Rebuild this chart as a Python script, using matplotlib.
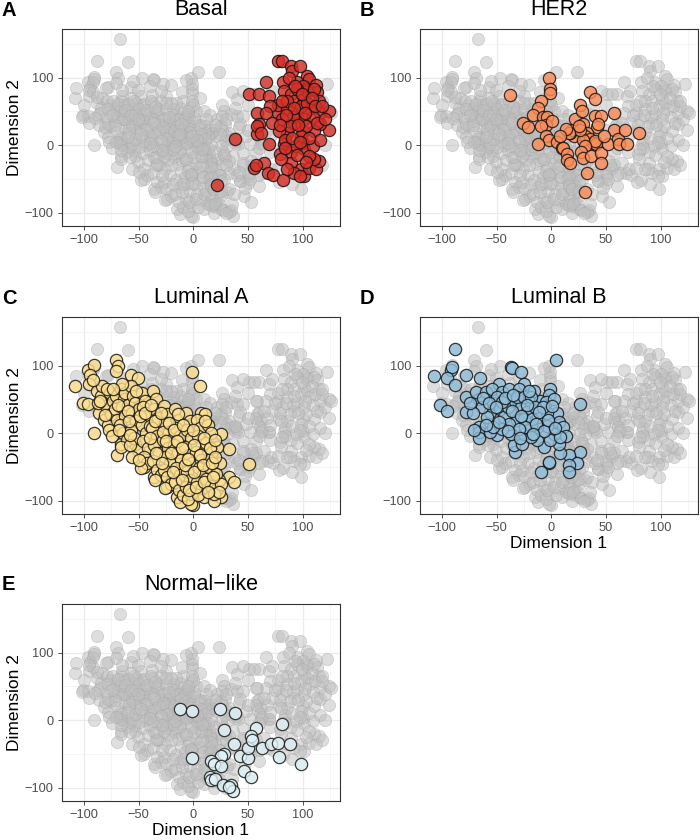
import numpy as np
import matplotlib
matplotlib.use("Agg")
import matplotlib.pyplot as plt

plt.rcParams["font.family"] = ["Liberation Sans", "DejaVu Sans"]

# pontos (Dimension 1, Dimension 2)
basal = [(22, -59), (38, 9), (51, 76), (66, 94), (60, 75), (69, 73), (58, 48), (60, 31),
         (58, 16), (69, 2), (55, -34), (65, -26), (57, -30), (68, -41), (73, -45), (82, -52),
         (77, 125), (81, 125), (89, 117), (90, 110), (104, 102), (106, 98), (82, 93), (83, 80),
         (89, 75), (92, 65), (101, 68), (104, 83), (112, 89), (113, 78), (106, 53), (115, 65),
         (116, 48), (124, 50), (124, 23), (116, 31), (110, 21), (100, 21), (92, 33), (86, 18),
         (78, 21), (77, 48), (77, 60), (86, 53), (95, 46), (101, 38), (98, 58), (91, 41),
         (83, 1), (89, -11), (79, -14), (100, 3), (101, -6), (109, -1), (116, 8), (89, -26),
         (98, -36), (101, -46), (106, -34), (112, -36), (115, -24), (92, -41), (97, -46),
         (110, -20), (80, -21), (109, 41), (104, 80), (95, 93), (100, 88), (95, 83), (86, 65),
         (92, 55), (104, 63), (81, 38), (88, 28), (103, 28), (113, 33), (120, 38), (98, 13),
         (106, 11), (84, 8), (94, -1), (106, -16), (81, 65), (70, 58), (66, 48), (58, 28),
         (62, 18), (72, 33), (97, 117), (110, 83),
         (87, 100), (93, 88), (99, 75), (108, 70), (85, 45), (96, 30), (90, 10), (102, 48),
         (84, -5), (95, -15), (103, -25), (86, -35), (111, 58), (118, 58), (79, 30), (97, 5)]

her2 = [(-38, 74), (-2, 99), (-1, 83), (-1, 77), (-9, 65), (-12, 55), (-17, 44), (-8, 41),
        (-4, 41), (-5, 29), (-9, 28), (1, 36), (-26, 32), (-21, 26), (-5, 13), (-2, 7),
        (-12, 1), (5, 4), (10, -4), (11, -5), (14, -13), (14, -22), (17, -26), (21, 13),
        (17, 18), (19, 22), (22, 39), (26, 59), (35, 78), (40, 68), (40, 43), (45, 43),
        (42, 26), (43, 31), (29, 31), (33, 18), (31, 14), (35, 9), (38, 3), (41, 1), (40, 6),
        (29, 8), (31, -1), (27, -11), (29, -19), (36, -16), (45, -12), (45, -26), (33, -41),
        (31, -70), (52, 1), (57, 48), (57, 23), (61, 9), (62, 2), (69, 1), (67, 22), (80, 18),
        (26, 23), (25, 28), (16, 18), (13, 24), (8, 13), (48, 13), (28, 50)]

luminal_a = [(-108, 69), (-101, 44), (-96, 43), (-91, 0), (-96, 93), (-91, 101), (-94, 86),
             (-95, 73), (-71, 109), (-69, 100), (-71, 92), (-57, 86), (-51, 81), (-1, 90),
             (6, 69), (-70, -32), (-66, -16), (7, 29), (11, 28), (25, -1), (33, -23), (51, -46),
             (33, -65), (37, -73), (25, -95), (0, -107), (-2, -105), (-53, -16), (-45, -50),
             (-36, -65), (-24, -80), (-15, -95), (-12, -102), (10, -95), (19, -100), (21, -85),
             (23, -70),
             (-88, 62), (-84, 55), (-86, 30), (-82, 20), (-80, 40), (-87, 45), (-78, 12), (-83, 70),
             (-76, 60), (-73, 48), (-75, 28), (-72, 35), (-77, 5), (-70, 20), (-74, -5), (-71, 55),
             (-66, 65), (-63, 50), (-65, 38), (-62, 25), (-67, 12), (-64, 0), (-61, -10),
             (-66, -20), (-60, 42), (-62, 60),
             (-57, 70), (-55, 55), (-53, 45), (-56, 30), (-52, 18), (-57, 5), (-54, -8),
             (-51, -25), (-56, -35), (-50, 35), (-58, -18),
             (-47, 60), (-44, 48), (-46, 38), (-42, 25), (-47, 12), (-43, 0), (-46, -12),
             (-41, -22), (-45, -35), (-42, -45), (-48, -52), (-40, 10),
             (-37, 62), (-34, 50), (-36, 35), (-32, 22), (-38, 8), (-33, -5), (-36, -18),
             (-31, -30), (-37, -42), (-33, -55), (-30, -62), (-35, -70),
             (-27, 40), (-24, 28), (-26, 15), (-22, 2), (-28, -10), (-23, -22), (-26, -35),
             (-21, -45), (-27, -55), (-24, -65), (-20, -75), (-26, -82),
             (-17, 35), (-13, 20), (-16, 8), (-12, -5), (-18, -18), (-14, -28), (-11, -40),
             (-16, -52), (-12, -62), (-17, -72), (-13, -85), (-9, -92),
             (-7, 30), (-3, 18), (-6, 5), (-2, -8), (-8, -20), (-4, -32), (-1, -45), (-6, -58),
             (-3, -70), (-7, -80), (-2, -90), (-5, -98),
             (3, 20), (6, 8), (4, -5), (8, -18), (2, -28), (7, -40), (5, -52), (9, -62),
             (3, -72), (8, -82), (4, -92),
             (13, 12), (16, 0), (12, -15), (17, -28), (14, -40), (18, -55), (12, -68), (16, -78),
             (19, -90), (14, -50),
             (22, -20), (24, -45), (21, -60), (25, -75), (23, -88),
             (-92, 78), (-85, 48), (-79, 66), (-81, 27), (-69, 42), (-68, 5), (-60, 33),
             (-59, 18), (-58, -3), (-52, 62), (-49, 25), (-50, -40), (-44, 30), (-40, -8),
             (-39, 42), (-35, 18), (-34, -30), (-30, 30), (-29, -45), (-28, 2), (-25, -12),
             (-22, 15), (-20, -30), (-19, -58), (-18, 5), (-15, -12), (-14, 28), (-10, -22),
             (-10, -70), (-9, 12), (-8, -48), (-5, -38), (-4, -85), (0, 5), (1, -18), (1, -58),
             (2, -80), (6, -32), (9, -48), (10, -8), (10, -72), (11, 18), (13, -88), (15, -22),
             (17, -45), (18, -65), (20, -10), (20, -35), (-65, 72), (-73, 66)]

luminal_b = [(-107, 84), (-88, 125), (-92, 94), (-91, 98), (-95, 81), (-88, 71), (-78, 86),
             (-102, 41), (-95, 33), (-78, 54), (-78, 31), (-66, 51), (-69, 61), (-65, 82),
             (-66, 9), (-66, 2), (-66, -8), (-48, 73), (-37, 98), (-36, 96), (-28, 91), (-25, 73),
             (-1, 66), (-2, 56), (4, 109), (26, 43), (26, -28), (16, -33), (23, -45), (16, -48),
             (16, -58), (-2, -45), (-2, -43), (-9, -58), (8, -30), (7, -16), (-7, -20), (-33, -28),
             (-34, -18), (-27, -16), (-25, -1), (-37, -1), (-50, -3), (-56, 2), (-56, 31),
             (-53, 44), (-47, 36), (-43, 24), (-40, 39), (-33, 48), (-28, 39), (-19, 44),
             (-22, 31), (-16, 63), (-10, 48), (-5, 46), (2, 51), (5, 29), (7, 16), (11, 9),
             (13, -4), (2, -1), (-4, 11), (-13, 9), (-19, 11), (-12, 24), (-4, 29), (-31, 19),
             (-39, 14), (-45, 6), (-59, 24), (-63, 39), (-60, 61), (-54, 66), (-45, 61), (-39, 66),
             (-30, 66), (-31, 53), (-25, 53), (-19, 53), (-15, 39), (-8, 39), (-25, 21), (-18, 21),
             (-24, 9), (-30, 6), (-53, 9), (-72, 29), (-74, 44), (-50, 53), (-45, 46), (-1, -11),
             (-13, -11), (-19, -6), (8, -6), (-71, 4),
             (-62, 52), (-57, 45), (-51, 38), (-48, 17), (-42, 52), (-36, 32), (-35, 57),
             (-28, 26), (-22, 42), (-20, 62), (-14, 14), (-11, 31), (-7, 3), (-3, 20), (1, 40),
             (3, 8), (-17, -2), (-29, -8), (-40, 3), (-60, 12)]

normal_like = [(-12, 16), (-1, 13), (-1, -56), (24, 17), (38, 11), (28, -15), (37, -36),
               (28, -50), (25, -54), (16, -60), (19, -65), (25, -68), (15, -85), (16, -89),
               (20, -87), (27, -97), (34, -96), (36, -105), (33, -99), (43, -54), (46, -76),
               (50, -57), (50, -42), (53, -85), (57, -12), (53, -24), (54, -30), (63, -42),
               (71, -36), (77, -34), (78, -55), (81, -6), (88, -35), (98, -65)]

# amostras sem subtipo (so aparecem em cinza)
other = [(-67, 157), (-60, 123), (-47, 100), (-7, 96), (23, 108), (-20, 89), (122, 90),
         (126, 48), (43, -53), (47, -63), (60, -60), (34, 46), (-10, 78), (-30, 80),
         (-90, 40), (-100, 60), (45, -30), (40, -45), (63, 5), (70, -10), (120, 0),
         (118, -30), (90, -58), (35, -88), (30, -100), (10, 50), (15, 45), (45, 80), (50, 60),
         (-80, 85), (-40, 88), (0, 60), (30, -30), (60, -5), (118, 65),
         (30, 38), (38, 55), (50, 22), (55, 75), (65, 32), (70, 12), (60, -45), (52, -50),
         (42, -40), (20, 30), (12, 38), (-5, 50), (-25, 62), (-55, 95), (75, 45), (72, 80)]

titles = ["Basal", "HER2", "Luminal A", "Luminal B", "Normal\u2212like"]
letters = ["A", "B", "C", "D", "E"]
colors = ["#D73027", "#FC8D59", "#FEE090", "#91BFDB", "#E0F3F8"]
groups = [basal, her2, luminal_a, luminal_b, normal_like]

all_pts = np.array(basal + her2 + luminal_a + luminal_b + normal_like + other)

W, H = 700, 840
fig = plt.figure(figsize=(W / 100, H / 100), dpi=100)

# (left, top) em pixels de cada painel
boxes = [(62, 29), (420, 29), (62, 317), (420, 317), (62, 604)]
aw, ah = 278, 197

for i in range(5):
    left, top = boxes[i]
    ax = fig.add_axes([left / W, 1 - (top + ah) / H, aw / W, ah / H])
    ax.scatter(all_pts[:, 0], all_pts[:, 1], s=78, c="#BEBEBE", alpha=0.5,
               edgecolors="#A6A6A6", linewidths=0.5, zorder=2)
    pts = np.array(groups[i])
    ax.scatter(pts[:, 0], pts[:, 1], s=78, c=colors[i], alpha=0.8,
               edgecolors="#111111", linewidths=0.9, zorder=3)
    ax.set_xlim(-120, 134)
    ax.set_ylim(-120, 172)
    ax.set_xticks([-100, -50, 0, 50, 100])
    ax.set_yticks([-100, 0, 100])
    ax.set_xticks([-75, -25, 25, 75, 125], minor=True)
    ax.set_yticks([-50, 50, 150], minor=True)
    ax.grid(True, which="major", color="#EBEBEB", linewidth=0.9, zorder=0)
    ax.grid(True, which="minor", color="#F2F2F2", linewidth=0.5, zorder=0)
    ax.set_axisbelow(True)
    ax.tick_params(which="major", length=3, width=0.6, color="#333333",
                   labelsize=9.2, labelcolor="#4D4D4D", pad=3)
    ax.tick_params(which="minor", length=0)
    for sp in ax.spines.values():
        sp.set_color("#333333")
        sp.set_linewidth(0.8)
    if i in (0, 2, 4):
        ax.set_ylabel("Dimension 2", fontsize=12.5, labelpad=2)
    if i in (3, 4):
        ax.set_xlabel("Dimension 1", fontsize=12.5, labelpad=1)
    ax.text(0.5, 1 + 19.5 / ah, titles[i], transform=ax.transAxes,
            ha="center", va="center", fontsize=15.5)
    lx = 2 if left < 300 else 360
    fig.text(lx / W, 1 - (top - 19) / H, letters[i], ha="left", va="center",
             fontsize=14.5, fontweight="bold")

fig.savefig("out.png", dpi=100)
